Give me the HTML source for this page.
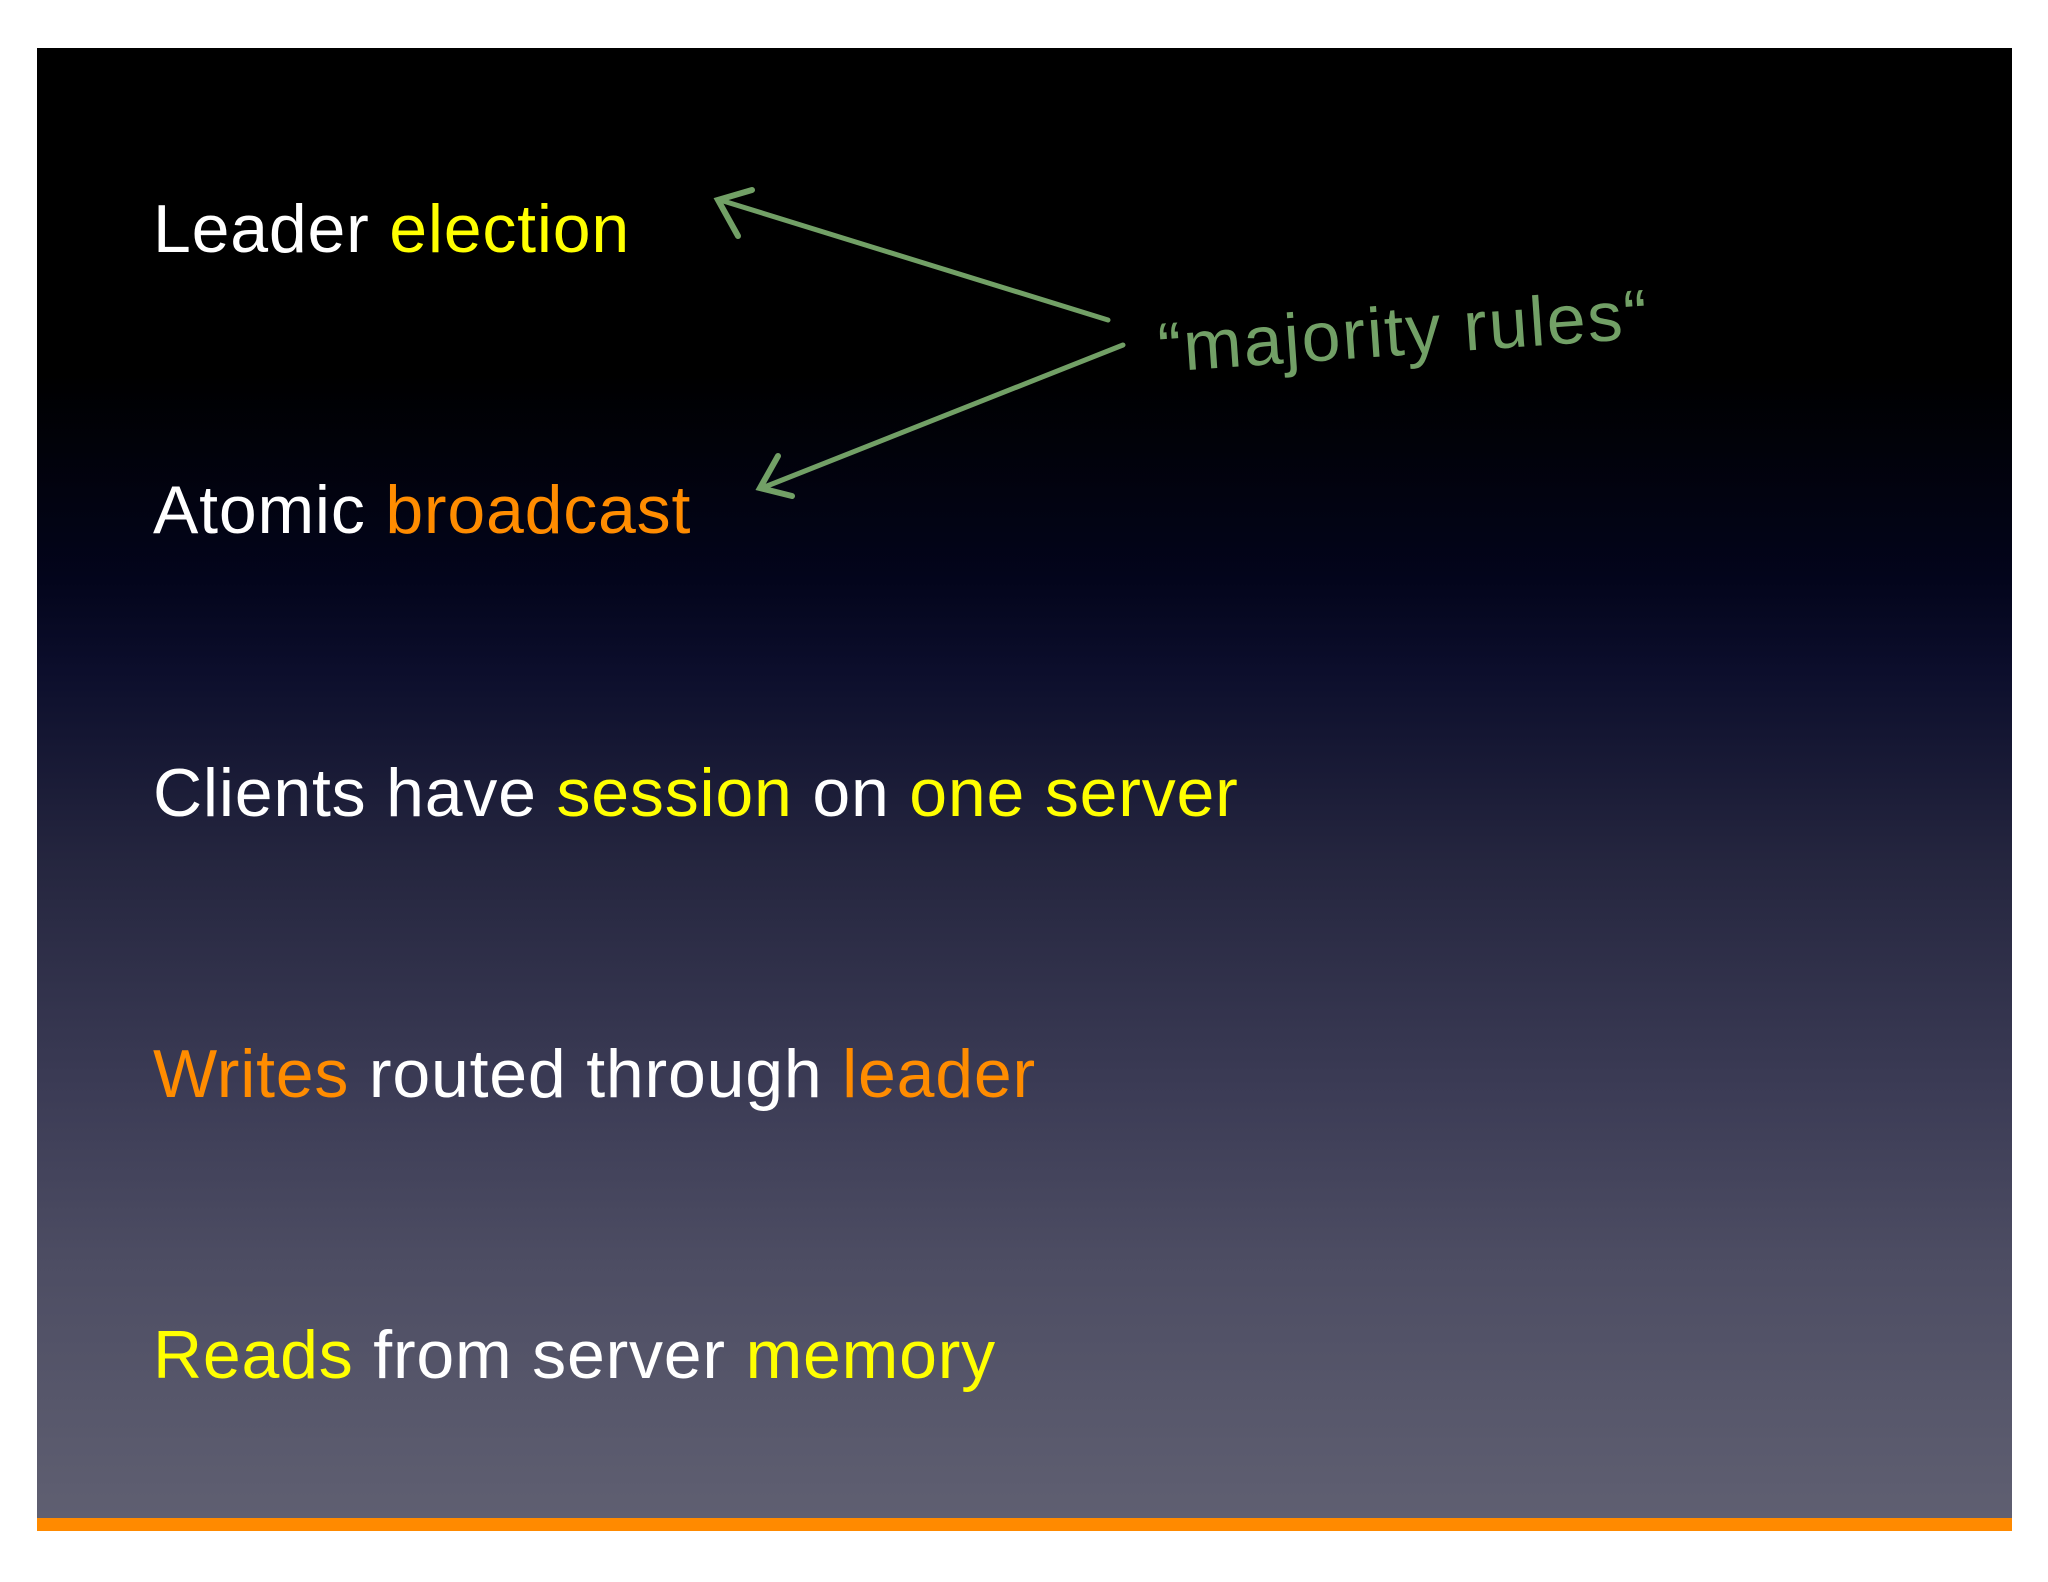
<!DOCTYPE html>
<html><head><meta charset="utf-8"><style>
html,body{margin:0;padding:0;background:#fff;}
body{width:2048px;height:1582px;position:relative;overflow:hidden;}
#slide{position:absolute;left:37px;top:48px;width:1975px;height:1483px;
background:linear-gradient(to bottom,#000 0%,#000 22%,#03051c 36%,#0c0e2c 42%,#25263f 55%,#3b3b55 70%,#4d4d63 82%,#606072 100%);}
#bar{position:absolute;left:37px;top:1518px;width:1975px;height:13px;background:#ff8a00;}
.t{position:absolute;left:153px;font-family:"Liberation Sans",sans-serif;font-size:68px;color:#fff;white-space:nowrap;line-height:1;letter-spacing:0.8px;}
.y{color:#ffff00}.o{color:#ff8c00}
</style></head><body>
<div id="slide"></div>
<div id="bar"></div>
<div class="t" style="top:195px">Leader <span class="y">election</span></div>
<div class="t" style="top:476px">Atomic <span class="o">broadcast</span></div>
<div class="t" style="top:759px">Clients have <span class="y">session</span> on <span class="y">one server</span></div>
<div class="t" style="top:1040px"><span class="o">Writes</span> routed through <span class="o">leader</span></div>
<div class="t" style="top:1321px"><span class="y">Reads</span> from server <span class="y">memory</span></div>
<svg width="2048" height="1582" style="position:absolute;left:0;top:0">
<g stroke="#72a066" fill="none" stroke-linecap="round">
<line x1="1108" y1="320" x2="720" y2="200" stroke-width="5"/>
<polyline points="752,190 718,200 738,236" stroke-width="6"/>
<line x1="1123" y1="345" x2="762" y2="488" stroke-width="5"/>
<polyline points="778,456 760,488 792,496" stroke-width="6"/>
</g>
<text x="1160" y="372" transform="rotate(-4 1160 372)" font-family="'Liberation Sans',sans-serif" font-size="70" fill="#72a066" textLength="490">“majority rules“</text>
</svg>
</body></html>
